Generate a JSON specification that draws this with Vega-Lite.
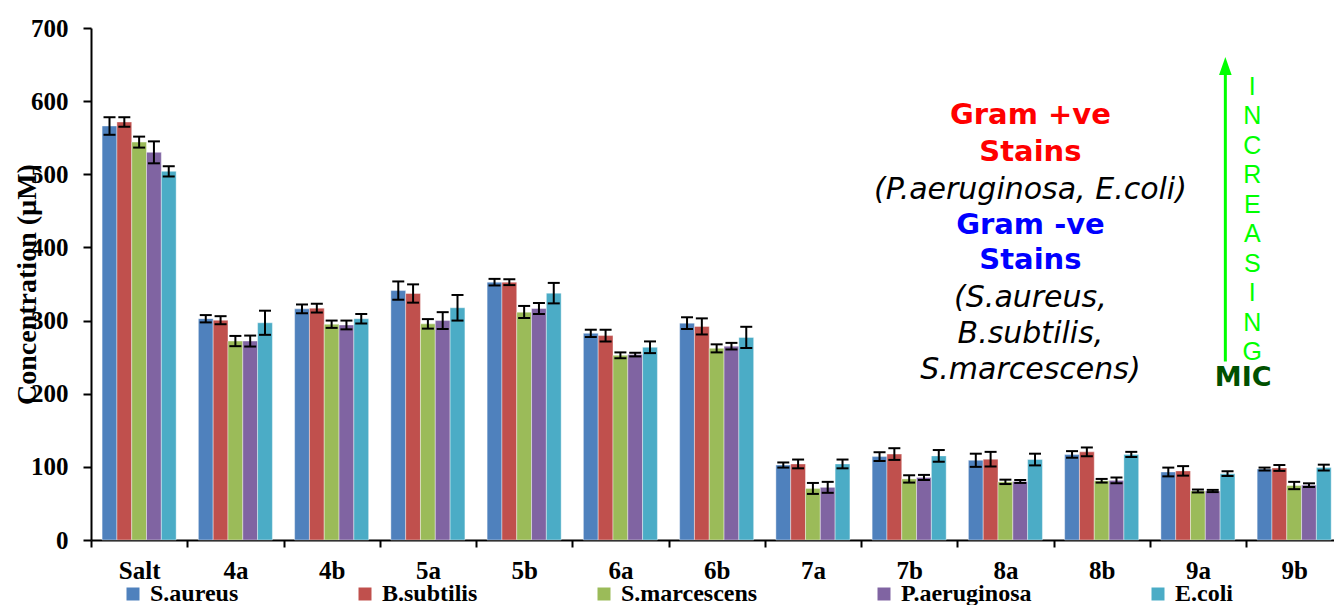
{
  "$schema": "https://vega.github.io/schema/vega-lite/v6.json",
  "width": 1243,
  "height": 512,
  "autosize": {"type": "none"},
  "padding": {"left": 91, "top": 28, "right": 0, "bottom": 65},
  "background": "white",
  "config": {"view": {"stroke": null}, "font": "Liberation Serif"},
  "datasets": {
    "mic": [
      {"compound": "Salt", "strain": "S.aureus", "value": 566, "lo": 554, "hi": 578},
      {"compound": "Salt", "strain": "B.subtilis", "value": 571.5, "lo": 565, "hi": 578},
      {"compound": "Salt", "strain": "S.marcescens", "value": 544, "lo": 536.5, "hi": 551.5},
      {"compound": "Salt", "strain": "P.aeruginosa", "value": 530, "lo": 515, "hi": 545},
      {"compound": "Salt", "strain": "E.coli", "value": 504, "lo": 497, "hi": 511},
      {"compound": "4a", "strain": "S.aureus", "value": 302.6, "lo": 297.5, "hi": 307.5},
      {"compound": "4a", "strain": "B.subtilis", "value": 300.5, "lo": 295, "hi": 306},
      {"compound": "4a", "strain": "S.marcescens", "value": 272, "lo": 265, "hi": 279},
      {"compound": "4a", "strain": "P.aeruginosa", "value": 272, "lo": 264.5, "hi": 279.5},
      {"compound": "4a", "strain": "E.coli", "value": 297, "lo": 280.5, "hi": 313.5},
      {"compound": "4b", "strain": "S.aureus", "value": 316, "lo": 310, "hi": 322},
      {"compound": "4b", "strain": "B.subtilis", "value": 317, "lo": 311, "hi": 323},
      {"compound": "4b", "strain": "S.marcescens", "value": 295, "lo": 290, "hi": 300},
      {"compound": "4b", "strain": "P.aeruginosa", "value": 294, "lo": 288, "hi": 300},
      {"compound": "4b", "strain": "E.coli", "value": 302.5, "lo": 296, "hi": 309},
      {"compound": "5a", "strain": "S.aureus", "value": 341, "lo": 328.5, "hi": 353.5},
      {"compound": "5a", "strain": "B.subtilis", "value": 337, "lo": 324.5, "hi": 349.5},
      {"compound": "5a", "strain": "S.marcescens", "value": 295.5, "lo": 289, "hi": 302},
      {"compound": "5a", "strain": "P.aeruginosa", "value": 300, "lo": 288.5, "hi": 311.5},
      {"compound": "5a", "strain": "E.coli", "value": 317.5, "lo": 300, "hi": 335},
      {"compound": "5b", "strain": "S.aureus", "value": 352.5, "lo": 348, "hi": 357},
      {"compound": "5b", "strain": "B.subtilis", "value": 352.5, "lo": 348.5, "hi": 356.5},
      {"compound": "5b", "strain": "S.marcescens", "value": 311.5, "lo": 303.5, "hi": 320},
      {"compound": "5b", "strain": "P.aeruginosa", "value": 316.5, "lo": 309, "hi": 324},
      {"compound": "5b", "strain": "E.coli", "value": 337.5, "lo": 323.5, "hi": 351.5},
      {"compound": "6a", "strain": "S.aureus", "value": 282.5, "lo": 277.5, "hi": 287.5},
      {"compound": "6a", "strain": "B.subtilis", "value": 279.5, "lo": 271.5, "hi": 287.5},
      {"compound": "6a", "strain": "S.marcescens", "value": 252.5, "lo": 248.5, "hi": 256.5},
      {"compound": "6a", "strain": "P.aeruginosa", "value": 253.5, "lo": 251, "hi": 256},
      {"compound": "6a", "strain": "E.coli", "value": 263.5, "lo": 255.5, "hi": 271.5},
      {"compound": "6b", "strain": "S.aureus", "value": 296.5, "lo": 288.5, "hi": 304.5},
      {"compound": "6b", "strain": "B.subtilis", "value": 292, "lo": 281, "hi": 303},
      {"compound": "6b", "strain": "S.marcescens", "value": 262, "lo": 256.5, "hi": 267.5},
      {"compound": "6b", "strain": "P.aeruginosa", "value": 265, "lo": 260.5, "hi": 269.5},
      {"compound": "6b", "strain": "E.coli", "value": 277, "lo": 262.5, "hi": 291.5},
      {"compound": "7a", "strain": "S.aureus", "value": 102.5, "lo": 99, "hi": 106},
      {"compound": "7a", "strain": "B.subtilis", "value": 104, "lo": 98, "hi": 110},
      {"compound": "7a", "strain": "S.marcescens", "value": 70.5, "lo": 63, "hi": 78},
      {"compound": "7a", "strain": "P.aeruginosa", "value": 72, "lo": 64.5, "hi": 79.5},
      {"compound": "7a", "strain": "E.coli", "value": 104, "lo": 98, "hi": 110},
      {"compound": "7b", "strain": "S.aureus", "value": 114, "lo": 108, "hi": 120},
      {"compound": "7b", "strain": "B.subtilis", "value": 117.5, "lo": 109.5, "hi": 125.5},
      {"compound": "7b", "strain": "S.marcescens", "value": 83.5, "lo": 78.5, "hi": 88.5},
      {"compound": "7b", "strain": "P.aeruginosa", "value": 85.5, "lo": 82, "hi": 89},
      {"compound": "7b", "strain": "E.coli", "value": 115, "lo": 107, "hi": 123},
      {"compound": "8a", "strain": "S.aureus", "value": 109, "lo": 100, "hi": 118},
      {"compound": "8a", "strain": "B.subtilis", "value": 110.5, "lo": 100.5, "hi": 120.5},
      {"compound": "8a", "strain": "S.marcescens", "value": 79.5, "lo": 76.5, "hi": 82.5},
      {"compound": "8a", "strain": "P.aeruginosa", "value": 80, "lo": 78, "hi": 82},
      {"compound": "8a", "strain": "E.coli", "value": 110, "lo": 102, "hi": 118},
      {"compound": "8b", "strain": "S.aureus", "value": 117, "lo": 112.5, "hi": 121.5},
      {"compound": "8b", "strain": "B.subtilis", "value": 120.5, "lo": 114.5, "hi": 126.5},
      {"compound": "8b", "strain": "S.marcescens", "value": 81, "lo": 78.5, "hi": 83.5},
      {"compound": "8b", "strain": "P.aeruginosa", "value": 81.5, "lo": 77.5, "hi": 85.5},
      {"compound": "8b", "strain": "E.coli", "value": 117, "lo": 113.5, "hi": 120.5},
      {"compound": "9a", "strain": "S.aureus", "value": 93, "lo": 87, "hi": 99},
      {"compound": "9a", "strain": "B.subtilis", "value": 94.5, "lo": 88, "hi": 101},
      {"compound": "9a", "strain": "S.marcescens", "value": 67, "lo": 65, "hi": 69},
      {"compound": "9a", "strain": "P.aeruginosa", "value": 67, "lo": 65.5, "hi": 68.5},
      {"compound": "9a", "strain": "E.coli", "value": 90.5, "lo": 87.5, "hi": 94},
      {"compound": "9b", "strain": "S.aureus", "value": 97, "lo": 95, "hi": 99},
      {"compound": "9b", "strain": "B.subtilis", "value": 98.5, "lo": 94.5, "hi": 102.5},
      {"compound": "9b", "strain": "S.marcescens", "value": 74.5, "lo": 69.5, "hi": 79.5},
      {"compound": "9b", "strain": "P.aeruginosa", "value": 75, "lo": 72.5, "hi": 77.5},
      {"compound": "9b", "strain": "E.coli", "value": 99, "lo": 95, "hi": 103}
    ]
  },
  "data": {"name": "mic"},
  "layer": [
    {
      "mark": {"type": "bar", "stroke": "white", "strokeWidth": 0.8, "strokeOpacity": 0.5},
      "encoding": {
        "x": {
          "field": "compound", "type": "nominal", "sort": null,
          "scale": {"paddingInner": 0, "paddingOuter": 0, "range": [0, 1251.3]},
          "axis": {
            "title": null, "tickBand": "extent", "labelAngle": 0,
            "labelFont": "Liberation Serif", "labelFontWeight": "bold", "labelFontSize": 25,
            "labelColor": "black", "labelPadding": 11,
            "tickSize": 7, "tickWidth": 2, "tickColor": "black",
            "domainColor": "black", "domainWidth": 2
          }
        },
        "xOffset": {
          "field": "strain", "type": "nominal",
          "sort": ["S.aureus", "B.subtilis", "S.marcescens", "P.aeruginosa", "E.coli"],
          "scale": {"paddingInner": 0, "paddingOuter": 0.75}
        },
        "y": {
          "field": "value", "type": "quantitative",
          "scale": {"domain": [0, 700], "nice": false},
          "axis": {
            "title": "Concentration (µM)", "values": [0, 100, 200, 300, 400, 500, 600, 700],
            "grid": false,
            "labelFont": "Liberation Serif", "labelFontWeight": "bold", "labelFontSize": 25,
            "labelColor": "black", "labelPadding": 15,
            "tickSize": 8, "tickWidth": 2, "tickColor": "black",
            "domainColor": "black", "domainWidth": 2,
            "titleFont": "Liberation Serif", "titleFontWeight": "bold", "titleFontSize": 28,
            "titleColor": "black", "titleAngle": -90, "titleX": -56, "titleY": 256,
            "titleAlign": "center", "titleBaseline": "alphabetic"
          }
        },
        "color": {
          "field": "strain", "type": "nominal",
          "sort": ["S.aureus", "B.subtilis", "S.marcescens", "P.aeruginosa", "E.coli"],
          "scale": {
            "domain": ["S.aureus", "B.subtilis", "S.marcescens", "P.aeruginosa", "E.coli"],
            "range": ["#4f81bd", "#c0504d", "#9bbb59", "#8064a2", "#4bacc6"]
          },
          "legend": {
            "title": null, "orient": "none", "legendX": 30, "legendY": 554,
            "direction": "horizontal", "columns": 5, "columnPadding": 114,
            "symbolType": "square", "symbolSize": 169, "symbolStrokeWidth": 0,
            "labelFont": "Liberation Serif", "labelFontWeight": "bold", "labelFontSize": 24,
            "labelColor": "black", "labelOffset": 5, "padding": 0
          }
        }
      }
    },
    {
      "mark": {"type": "rule", "color": "black", "strokeWidth": 2},
      "encoding": {
        "x": {"field": "compound", "type": "nominal", "sort": null},
        "xOffset": {"field": "strain", "type": "nominal", "sort": ["S.aureus", "B.subtilis", "S.marcescens", "P.aeruginosa", "E.coli"]},
        "y": {"field": "lo", "type": "quantitative"},
        "y2": {"field": "hi"}
      }
    },
    {
      "mark": {"type": "tick", "color": "black", "thickness": 2, "size": 12, "opacity": 1},
      "encoding": {
        "x": {"field": "compound", "type": "nominal", "sort": null},
        "xOffset": {"field": "strain", "type": "nominal", "sort": ["S.aureus", "B.subtilis", "S.marcescens", "P.aeruginosa", "E.coli"]},
        "y": {"field": "lo", "type": "quantitative"}
      }
    },
    {
      "mark": {"type": "tick", "color": "black", "thickness": 2, "size": 12, "opacity": 1},
      "encoding": {
        "x": {"field": "compound", "type": "nominal", "sort": null},
        "xOffset": {"field": "strain", "type": "nominal", "sort": ["S.aureus", "B.subtilis", "S.marcescens", "P.aeruginosa", "E.coli"]},
        "y": {"field": "hi", "type": "quantitative"}
      }
    },
    {
      "data": {"values": [{}]},
      "mark": {"type": "text", "text": ["Gram +ve", "Stains"], "font": "DejaVu Sans", "fontWeight": "bold", "fontSize": 29, "color": "#ff0000", "align": "center", "baseline": "middle", "lineHeight": 36.5},
      "encoding": {"x": {"datum": "8a", "type": "nominal", "bandPosition": 0.76}, "y": {"datum": 581, "type": "quantitative"}}
    },
    {
      "data": {"values": [{}]},
      "mark": {"type": "text", "text": "(P.aeruginosa,  E.coli)", "font": "DejaVu Sans", "fontStyle": "italic", "fontSize": 30, "color": "black", "align": "center", "baseline": "middle"},
      "encoding": {"x": {"datum": "8a", "type": "nominal", "bandPosition": 0.76}, "y": {"datum": 478.5, "type": "quantitative"}}
    },
    {
      "data": {"values": [{}]},
      "mark": {"type": "text", "text": ["Gram -ve", "Stains"], "font": "DejaVu Sans", "fontWeight": "bold", "fontSize": 29, "color": "#0000ff", "align": "center", "baseline": "middle", "lineHeight": 35},
      "encoding": {"x": {"datum": "8a", "type": "nominal", "bandPosition": 0.76}, "y": {"datum": 430.7, "type": "quantitative"}}
    },
    {
      "data": {"values": [{}]},
      "mark": {"type": "text", "text": ["(S.aureus,", "B.subtilis,", "S.marcescens)"], "font": "DejaVu Sans", "fontStyle": "italic", "fontSize": 30, "color": "black", "align": "center", "baseline": "middle", "lineHeight": 36},
      "encoding": {"x": {"datum": "8a", "type": "nominal", "bandPosition": 0.76}, "y": {"datum": 330.5, "type": "quantitative"}}
    },
    {
      "data": {"values": [{}]},
      "mark": {"type": "rule", "color": "#00ff00", "strokeWidth": 3},
      "encoding": {"x": {"datum": "9a", "type": "nominal", "bandPosition": 0.785}, "y": {"datum": 244, "type": "quantitative"}, "y2": {"datum": 640}}
    },
    {
      "data": {"values": [{}]},
      "mark": {"type": "point", "shape": "M0,-1L0.7,1L-0.7,1Z", "filled": true, "color": "#00ff00", "size": 324, "opacity": 1},
      "encoding": {"x": {"datum": "9a", "type": "nominal", "bandPosition": 0.785}, "y": {"datum": 648, "type": "quantitative"}}
    },
    {
      "data": {"values": [{}]},
      "mark": {"type": "text", "text": ["I", "N", "C", "R", "E", "A", "S", "I", "N", "G"], "font": "Liberation Sans", "fontSize": 25, "color": "#00ff00", "align": "center", "baseline": "middle", "lineHeight": 29.5},
      "encoding": {"x": {"datum": "9b", "type": "nominal", "bandPosition": 0.065}, "y": {"datum": 619.8, "type": "quantitative"}}
    },
    {
      "data": {"values": [{}]},
      "mark": {"type": "text", "text": "MIC", "font": "DejaVu Sans", "fontWeight": "bold", "fontSize": 27, "color": "#005000", "align": "center", "baseline": "middle"},
      "encoding": {"x": {"datum": "9a", "type": "nominal", "bandPosition": 0.97}, "y": {"datum": 221.5, "type": "quantitative"}}
    }
  ]
}
